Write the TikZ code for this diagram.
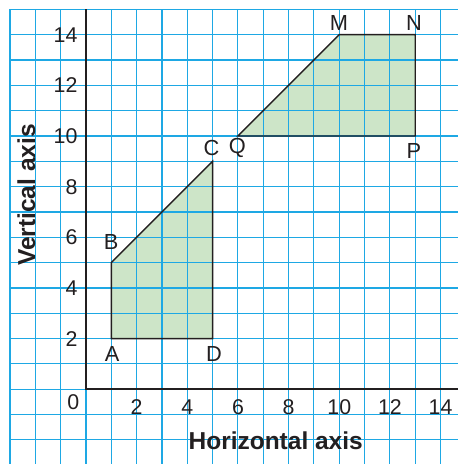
\documentclass[tikz,border=0pt]{standalone}
\usepackage{fontspec}
\setmainfont{Liberation Sans}
\definecolor{gridblue}{RGB}{30,168,228}
\definecolor{fillgreen}{RGB}{205,229,200}
\definecolor{inkgray}{RGB}{35,31,32}
\begin{document}
\begin{tikzpicture}[
    gridline/.style={draw=gridblue, line width=1.2pt},
    axisline/.style={draw=inkgray, line width=1.8pt, line join=miter},
    regionfill/.style={fill=fillgreen},
    regionedge/.style={draw=inkgray, line width=1.6pt, line join=miter},
    num/.style={font=\fontsize{24}{28}\selectfont, text=inkgray, inner sep=0pt},
    vlbl/.style={font=\fontsize{24.5}{28}\selectfont, text=inkgray, inner sep=0pt},
    axlbl/.style={font=\fontsize{27.5}{31}\selectfont\bfseries, text=inkgray, inner sep=0pt},
  ]
    \useasboundingbox (-3.395,-2.95) rectangle (14.686,15.37);

    % corners of the two shapes
    \coordinate (A) at (1,2);
    \coordinate (B) at (1,5);
    \coordinate (C) at (5,9);
    \coordinate (D) at (5,2);
    \coordinate (M) at (10,14);
    \coordinate (N) at (13,14);
    \coordinate (P) at (13,10);
    \coordinate (Q) at (6,10);

    % shading first, the squares show through it
    \fill[regionfill] (A) -- (B) -- (C) -- (D) -- cycle;
    \fill[regionfill] (M) -- (N) -- (P) -- (Q) -- cycle;

    % squared paper
    \foreach \x in {-3,...,14}
      \draw[gridline] (\x,-2.95) -- (\x,15);
    \foreach \y in {-2,...,15}
      \draw[gridline] (-3,\y) -- (14.686,\y);

    \draw[regionedge] (A) -- (B) -- (C) -- (D) -- cycle;
    \draw[regionedge] (M) -- (N) -- (P) -- (Q) -- cycle;

    % axes
    \coordinate (O) at (0,0);
    \coordinate (ytop) at (0,15);
    \coordinate (xend) at (14.686,0);
    \draw[axisline] (ytop) -- (O) -- (xend);

    \foreach \i in {2,4,...,14}
      \node[num] (x\i) at (\i,-0.72) {\i};
    \foreach \i in {2,4,...,14}
      \node[num, anchor=east] (y\i) at (-0.33,\i) {\i};
    \node[num] (zero) at (-0.5,-0.52) {0};

    \node[vlbl] (lA) at (1.03,1.39)  {A};
    \node[vlbl] (lB) at (0.99,5.83)  {B};
    \node[vlbl] (lC) at (4.96,9.51)  {C};
    \node[vlbl] (lD) at (5.05,1.39)  {D};
    \node[vlbl] (lM) at (9.99,14.45) {M};
    \node[vlbl] (lN) at (12.95,14.45) {N};
    \node[vlbl, anchor=north] (lQ) at (5.98,9.9) {Q};
    \node[vlbl] (lP) at (12.95,9.40) {P};

    \node[axlbl] (hax) at (7.49,-2.04) {Horizontal axis};
    \node[axlbl, rotate=90] (vax) at (-2.35,7.67) {Vertical axis};
  \end{tikzpicture}
\end{document}
